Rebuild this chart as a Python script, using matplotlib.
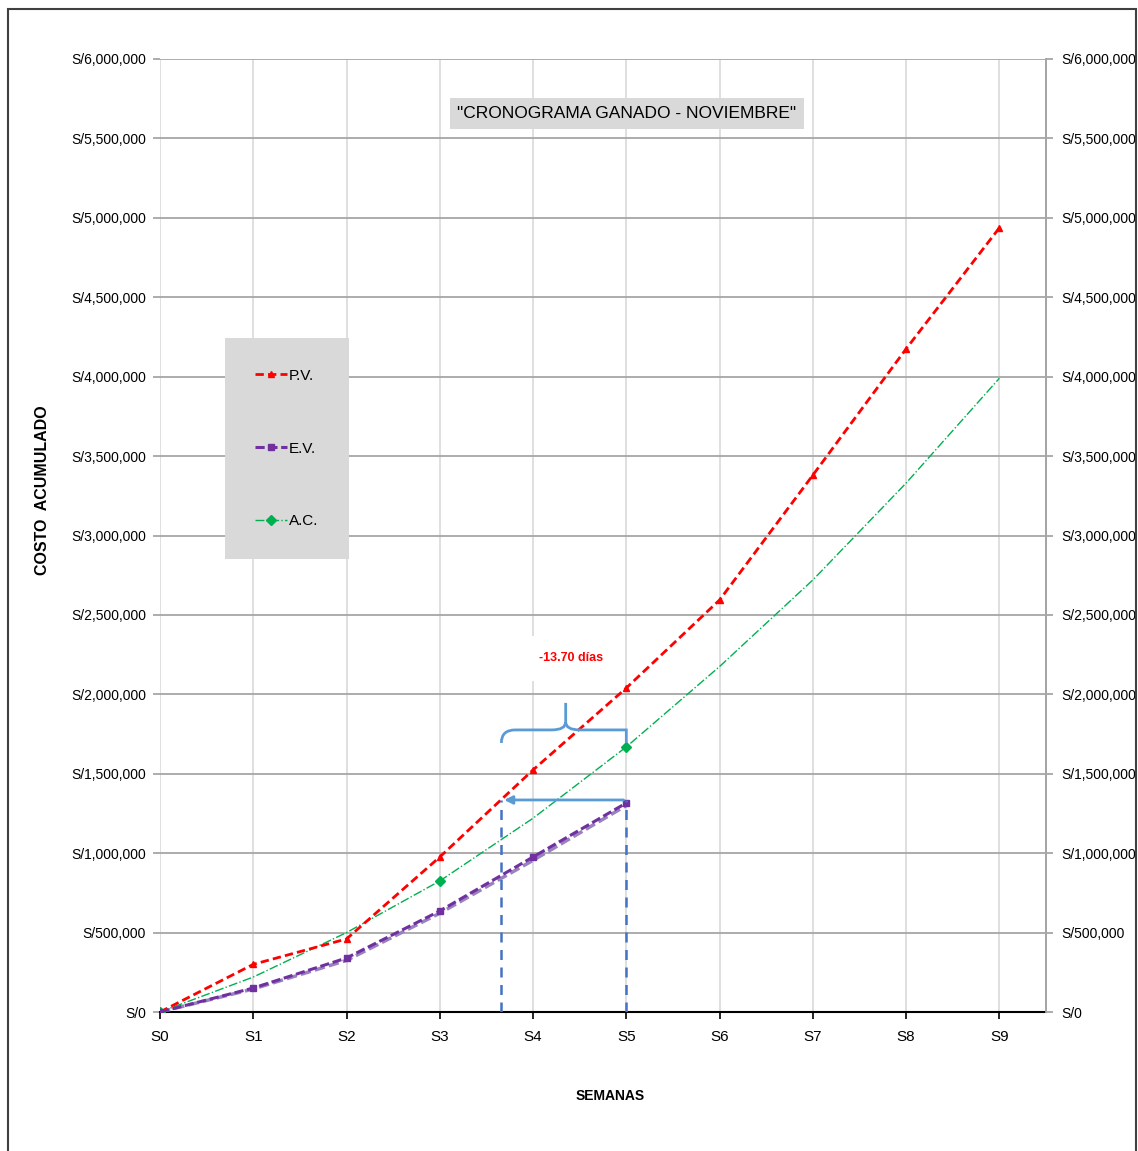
import matplotlib
matplotlib.use("Agg")
import matplotlib.pyplot as plt
from matplotlib.patches import Rectangle, PathPatch
from matplotlib.path import Path
from matplotlib.ticker import FuncFormatter, MultipleLocator
import numpy as np

# data
semanas = ["S0", "S1", "S2", "S3", "S4", "S5", "S6", "S7", "S8", "S9"]
pv = [0, 300000, 460000, 976000, 1524000, 2040000, 2594000, 3380000, 4175000, 4937000]
ev = [0, 151000, 340000, 636000, 976000, 1316000]
ev_b = [0, 145000, 325000, 622000, 955000, 1300000]
ac = [0, 220000, 500000, 825000, 1220000, 1669000, 2175000, 2720000, 3330000, 3990000]
ac_marks = [0, 3, 5]

x_es = 3.66      # semana equivalente del EV
y_es = 1335000
etiqueta = "-13.70 días"

plt.rcParams["font.family"] = ["Liberation Sans", "DejaVu Sans"]

W, H = 1138, 1151
fig = plt.figure(figsize=(W / 100, H / 100), dpi=100)
ax = fig.add_axes([160 / W, (H - 1012) / H, 886 / W, 953 / H])

x = np.arange(len(semanas))

ax.plot(x, pv, color="#FF0000", ls=(0, (3, 1.5)), lw=2, marker="^", ms=5, label="P.V.", zorder=5)
ax.plot(x[:len(ev_b)], ev_b, color="#9A82C0", ls=(0, (3, 1.2)), lw=2.5, zorder=4)
ax.plot(x[:len(ev)], ev, color="#7030A0", ls=(0, (3, 1.2)), lw=2.2, marker="s", ms=4.5, label="E.V.", zorder=5)
ax.plot(x, ac, color="#00B050", ls="-.", lw=1, marker="D", ms=5, markevery=ac_marks, label="A.C.", zorder=4)

# annotations
ax.plot([x_es, x_es], [0, y_es], color="#4472C4", ls=(0, (4, 3)), lw=1.8, zorder=6)
ax.plot([5, 5], [0, y_es], color="#4472C4", ls=(0, (4, 3)), lw=1.8, zorder=6)
ax.annotate("", xy=(x_es, y_es), xytext=(5, y_es),
            arrowprops=dict(arrowstyle="-|>", color="#5B9BD5", lw=2, mutation_scale=12), zorder=6)

# brace
xm = (x_es + 5) / 2 + 0.02
y0, y1, y2 = 1694000, 1776000, 1946000
verts = [(x_es, y0), (x_es, y1), (x_es + 0.15, y1), (x_es + 0.2, y1),
         (xm - 0.15, y1), (xm, y1), (xm, y1 + 50000), (xm, y2),
         (xm, y1 + 50000), (xm, y1), (xm + 0.15, y1),
         (5 - 0.2, y1), (5 - 0.15, y1), (5, y1), (5, y0)]
codes = [Path.MOVETO, Path.CURVE3, Path.CURVE3, Path.LINETO,
         Path.LINETO, Path.CURVE3, Path.CURVE3, Path.LINETO,
         Path.MOVETO, Path.CURVE3, Path.CURVE3,
         Path.LINETO, Path.CURVE3, Path.CURVE3, Path.LINETO]
ax.add_patch(PathPatch(Path(verts, codes), fill=False, ec="#5B9BD5", lw=2, zorder=6))

ax.text(0.464, 0.371, etiqueta, transform=ax.transAxes, ha="center", va="center",
        color="#FF0000", fontsize=9, fontweight="bold",
        bbox=dict(facecolor="white", edgecolor="none", boxstyle="square,pad=1.3"), zorder=7)

ax.text(0.527, 0.943, '"CRONOGRAMA GANADO - NOVIEMBRE"', transform=ax.transAxes,
        ha="center", va="center", fontsize=12.5,
        bbox=dict(facecolor="#D9D9D9", edgecolor="none", boxstyle="square,pad=0.45"), zorder=7)

# axes styling
ax.set_xlim(0, 9.5)
ax.set_ylim(0, 6000000)
ax.set_xticks(x)
ax.set_xticklabels(semanas)
ax.yaxis.set_major_locator(MultipleLocator(500000))
fmt = FuncFormatter(lambda v, p: "S/{:,.0f}".format(v))
ax.yaxis.set_major_formatter(fmt)
ax.grid(axis="y", color="#A6A6A6", lw=1.3, zorder=0)
ax.grid(axis="x", color="#D9D9D9", lw=1.2, zorder=0)
ax.set_axisbelow(True)
for s in ["top", "left"]:
    ax.spines[s].set_visible(False)
ax.spines["right"].set_color("#A6A6A6")
ax.spines["right"].set_linewidth(1.3)
ax.spines["bottom"].set_color("black")
ax.spines["bottom"].set_linewidth(1.5)
ax.tick_params(axis="y", length=5, color="#A6A6A6", width=1.3, labelsize=10, pad=5)
ax.tick_params(axis="x", length=5, color="black", width=1.2, labelsize=11, pad=8)

ax2 = ax.twinx()
ax2.set_ylim(ax.get_ylim())
ax2.yaxis.set_major_locator(MultipleLocator(500000))
ax2.yaxis.set_major_formatter(fmt)
for s in ["top", "left", "bottom"]:
    ax2.spines[s].set_visible(False)
ax2.spines["right"].set_color("#A6A6A6")
ax2.spines["right"].set_linewidth(1.3)
ax2.tick_params(axis="y", length=5, color="#A6A6A6", width=1.3, labelsize=10, pad=6)

leg = ax.legend(loc="upper left", bbox_to_anchor=(0.073, 0.707), borderaxespad=0,
                fontsize=11, labelspacing=3.85, borderpad=2.0, handlelength=2.1,
                handletextpad=0.1, fancybox=False, framealpha=1)
leg.get_frame().set_facecolor("#D9D9D9")
leg.get_frame().set_edgecolor("none")
leg.set_zorder(8)

fig.text(43 / W, 1 - 490 / H, "COSTO  ACUMULADO", rotation=90, ha="center", va="center",
         fontsize=11.5, fontweight="bold")
fig.text(610 / W, 1 - 1096 / H, "SEMANAS", ha="center", va="center",
         fontsize=10, fontweight="bold")

fig.patches.append(Rectangle((8 / W, -0.05), 1128 / W, 1.05 - 9 / H, transform=fig.transFigure,
                             fill=False, ec="#404040", lw=1.5))

fig.savefig("out.png", dpi=100)
